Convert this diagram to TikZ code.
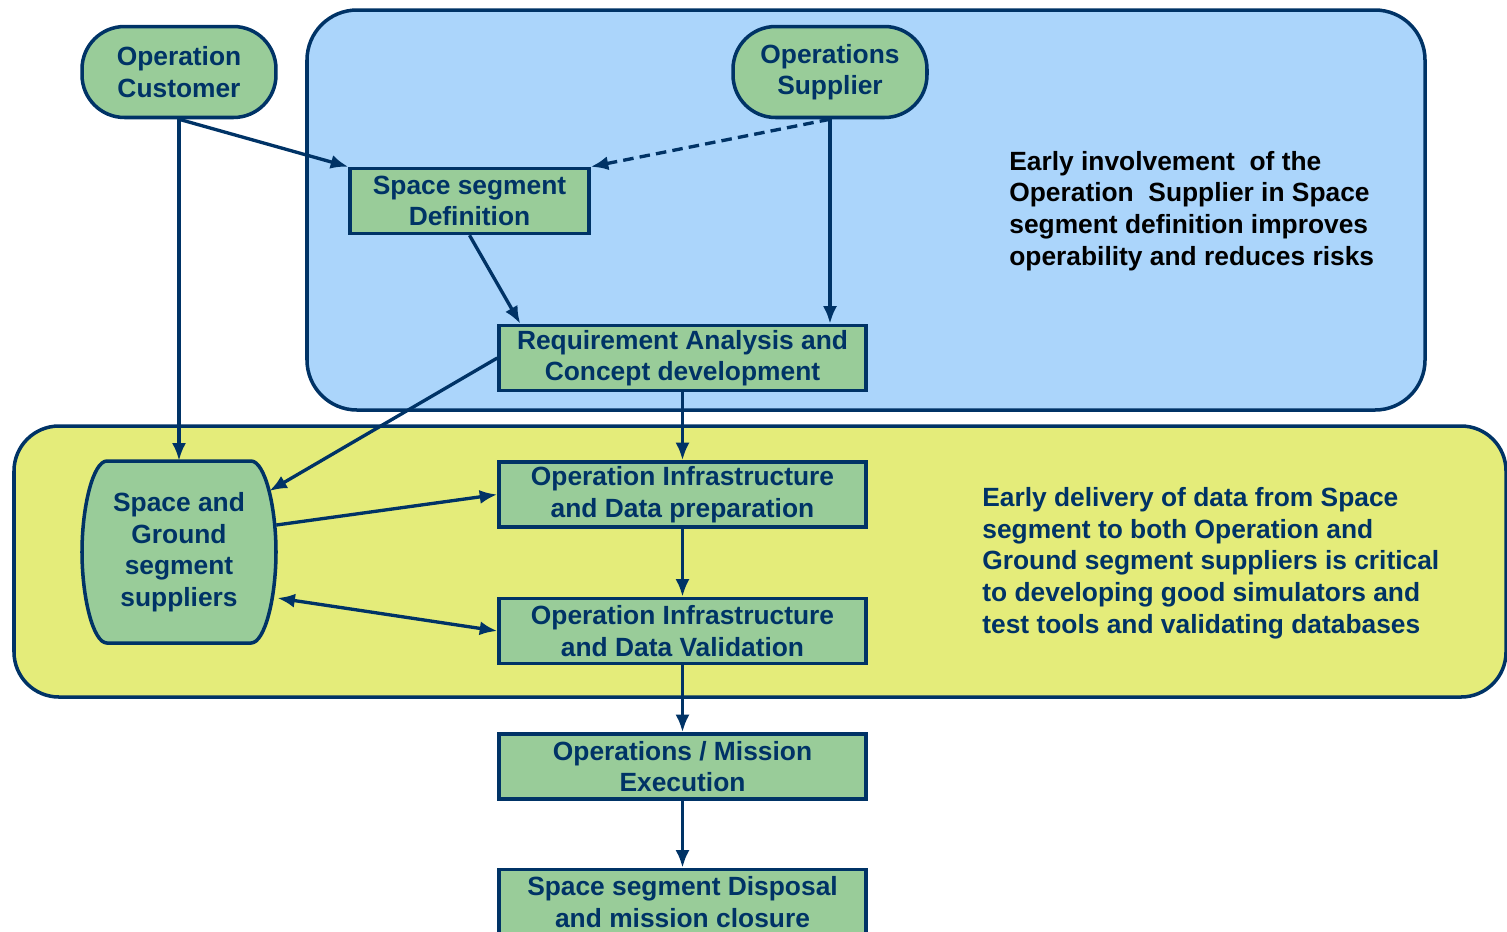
\documentclass[tikz,border=0pt]{standalone}
\usepackage{fontspec}
\setmainfont{Liberation Sans}
\usepackage{tikz}
\usetikzlibrary{arrows.meta,positioning,calc}

\definecolor{navy}{HTML}{003366}
\definecolor{boxgreen}{HTML}{99CC99}
\definecolor{skyblue}{HTML}{ABD5FB}
\definecolor{lime}{HTML}{E4EC7A}

\begin{document}
\begin{tikzpicture}[
    x=0.02cm, y=-0.02cm,
    stepbox/.style={rectangle, draw=navy, fill=boxgreen, line width=2pt, minimum width=7.34cm, minimum height=1.3cm, align=center, inner sep=0pt, text=navy},
    party/.style={rectangle, draw=navy, fill=boxgreen, rounded corners=0.85cm, line width=2pt, minimum width=3.88cm, minimum height=1.82cm, align=center, inner sep=0pt, text=navy},
    region/.style={draw=navy, line width=2pt},
    note/.style={align=left, anchor=base west, inner sep=0pt},
    wire/.style={-{Latex[length=10pt,width=8pt]}, line width=1.9pt, draw=navy},
    every node/.style={font=\fontsize{15}{18}\selectfont\bfseries}
]
    \useasboundingbox (0,0) rectangle (1507,931);

    % Background regions
    \draw [region, fill=skyblue, rounded corners=1cm] (307,10) rectangle (1425,410);
    \draw [region, fill=lime, rounded corners=0.9cm] (14,426) rectangle (1506,697);

    % Actors
    \node [party] (cust) at (179,72) {Operation\\Customer};
    \node [party] (supp) at (830,72) {Operations\\Supplier};

    % barrel shaped supplier box
    \coordinate (sgsc) at (179,552);
    \draw [region, fill=boxgreen, shift={(sgsc)}]
        (-72,-91) -- (72,-91) .. controls (86,-91) and (97,-45) .. (97,0)
        .. controls (97,45) and (86,91) .. (72,91) -- (-72,91)
        .. controls (-86,91) and (-97,45) .. (-97,0)
        .. controls (-97,-45) and (-86,-91) .. cycle;
    \node [rectangle, minimum width=3.88cm, minimum height=3.64cm, align=center, inner sep=0pt, text=navy]
        (sgs) at (sgsc) {Space and\\Ground\\segment\\suppliers};

    % Process steps
    \node [stepbox, minimum width=4.78cm] (ssd) at (469.5,201) {Space segment\\Definition};
    \node [stepbox] (req) at (682.5,358) {Requirement Analysis and\\Concept development};
    \node [stepbox, below=1.36cm of req] (prep) {Operation Infrastructure\\and Data preparation};
    \node [stepbox, below=1.36cm of prep] (val) {Operation Infrastructure\\and Data Validation};
    \node [stepbox, below=1.34cm of val] (exec) {Operations / Mission\\Execution};
    \node [stepbox, below=1.34cm of exec] (disp) {Space segment Disposal\\and mission closure};

    % Notes
    \node [note] (note1) at (1009,265) {Early involvement \ of the\\Operation \ Supplier in Space\\segment definition improves\\operability and reduces risks};
    \node [note, text=navy] (note2) at (982,633) {Early delivery of data from Space\\segment to both Operation and\\Ground segment suppliers is critical\\to developing good simulators and\\test tools and validating databases};

    % Connections
    \draw [wire] (cust.south) -- (ssd.north west);
    \draw [wire] (cust.south) -- (sgs.north);
    \draw [wire, dash pattern=on 6pt off 3.5pt] (supp.south) -- (ssd.north east);
    \draw [wire] (supp.south) -- (supp.south |- req.north);
    \draw [wire] (ssd.south) -- ($(req.north west)+(23,0)$);
    \draw [wire] (req.west) -- ($(sgs.east)+(-7,-61)$);
    \draw [wire] (req) -- (prep);
    \draw [wire] ($(sgs.east)+(0,-27)$) -- (prep.west);
    \draw [wire, {Latex[length=10pt,width=8pt]}-{Latex[length=10pt,width=8pt]}] ($(sgs.east)+(1,46)$) -- (val.west);
    \draw [wire] (prep) -- (val);
    \draw [wire] (val) -- (exec);
    \draw [wire] (exec) -- (disp);
\end{tikzpicture}
\end{document}
